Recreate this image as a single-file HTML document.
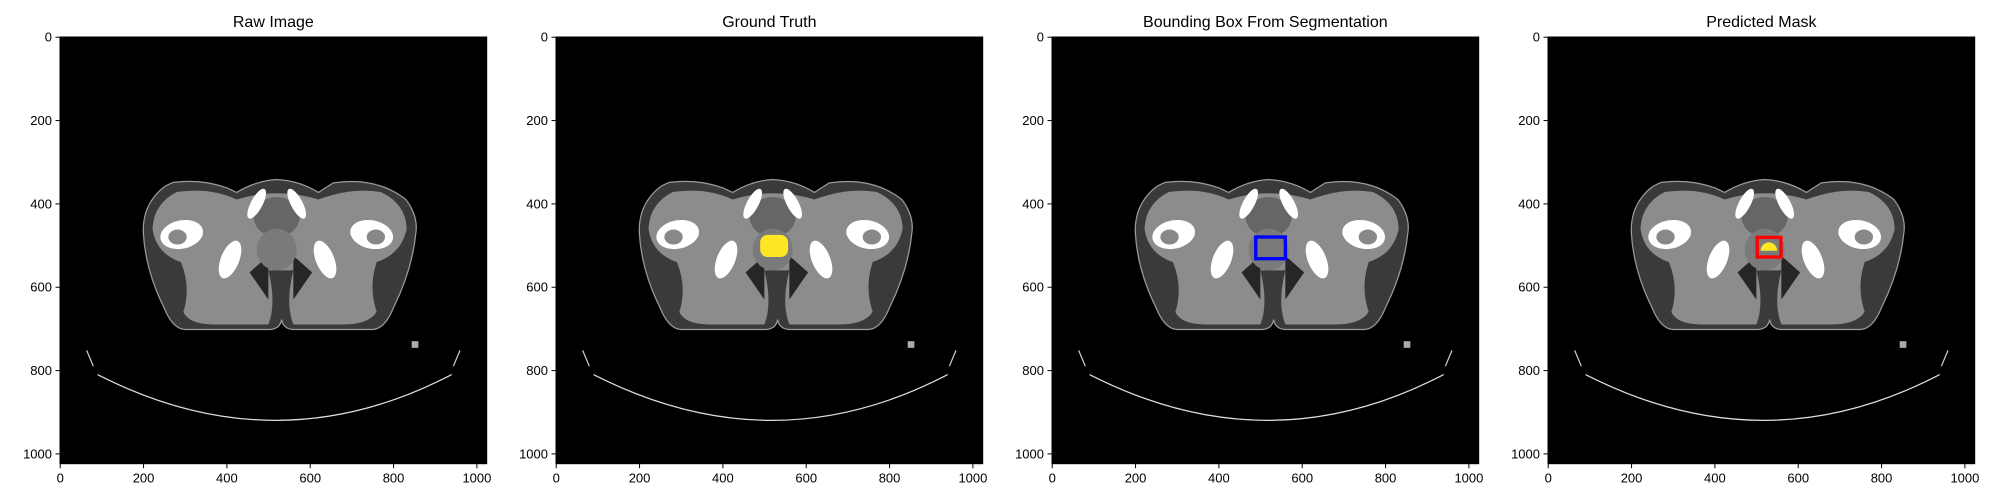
<!DOCTYPE html>
<html><head><meta charset="utf-8"><style>
html,body{margin:0;padding:0;background:#fff;}
svg{display:block;font-family:"Liberation Sans","DejaVu Sans",sans-serif;}
</style></head><body>
<svg id="fig" width="2000" height="500" viewBox="0 0 2000 500">
<defs>
<g id="ct">
<rect x="-0.5" y="-0.5" width="1024" height="1024" fill="#000"/>
<path d="M272 349 Q340 340 400 362 L424 373 Q470 345 520 342 Q575 345 620 373 L656 350 Q760 335 830 390 Q860 430 854 470 Q845 560 800 650 Q780 700 750 702 L560 702 Q535 700 532 678 Q528 700 505 702 L300 702 Q270 700 250 650 Q205 560 200 470 Q198 420 225 385 Q245 358 272 349 Z" fill="#3a3a3a" stroke="#9a9a9a" stroke-width="3"/>
<path d="M280 372 Q360 360 424 390 Q520 360 620 390 Q700 360 770 372 Q830 400 832 460 Q820 520 760 540 Q740 600 760 660 Q740 690 680 690 L560 690 Q540 640 560 560 L500 560 Q520 640 500 690 L370 690 Q310 690 296 660 Q315 600 290 540 Q230 520 222 460 Q225 400 280 372 Z" fill="#8c8c8c"/>
<path d="M455 565 L500 525 L500 630 Z" fill="#262626"/>
<path d="M605 565 L560 525 L560 630 Z" fill="#262626"/>
<ellipse cx="520" cy="432" rx="55" ry="48" fill="#666"/>
<ellipse cx="520" cy="510" rx="48" ry="50" fill="#7a7a7a"/>
<ellipse cx="472" cy="400" rx="14" ry="40" transform="rotate(28 472 400)" fill="#fff"/>
<ellipse cx="568" cy="400" rx="14" ry="40" transform="rotate(-28 568 400)" fill="#fff"/>
<ellipse cx="292" cy="474" rx="52" ry="34" transform="rotate(-12 292 474)" fill="#fff"/>
<ellipse cx="282" cy="480" rx="22" ry="18" fill="#888"/>
<ellipse cx="748" cy="474" rx="52" ry="34" transform="rotate(12 748 474)" fill="#fff"/>
<ellipse cx="758" cy="480" rx="22" ry="18" fill="#888"/>
<ellipse cx="408" cy="534" rx="22" ry="48" transform="rotate(22 408 534)" fill="#fff"/>
<ellipse cx="636" cy="534" rx="22" ry="48" transform="rotate(-22 636 534)" fill="#fff"/>
<path d="M90 810 Q520 1030 940 810" fill="none" stroke="#ddd" stroke-width="3"/>
<path d="M64 752 L80 790" stroke="#ccc" stroke-width="3"/>
<path d="M960 752 L944 790" stroke="#ccc" stroke-width="3"/>
<rect x="844" y="730" width="16" height="16" fill="#aaa"/>
</g>
</defs>
<g id="panels"></g>
</svg>
<script>
const titles = ["Raw Image","Ground Truth","Bounding Box From Segmentation","Predicted Mask"];
const ticks = [0,200,400,600,800,1000];
const gtMask = [490,475,557,528];
const bbox = [489,480,560,532];
const predBox = [502,481,559,528];
const predMask = [530,505,20];
const extent = 1024;
const NS = "http://www.w3.org/2000/svg";
const lefts = [60,556,1052,1548];
const topY = 37, size = 426.7;
const k = size/extent;
const root = document.getElementById("panels");
function mk(tag, attrs, parent){const e=document.createElementNS(NS,tag);for(const a in attrs)e.setAttribute(a,attrs[a]);parent.appendChild(e);return e;}
titles.forEach((t,i)=>{
  const L = lefts[i];
  const sx = v => L + (v+0.5)*k, sy = v => topY + (v+0.5)*k;
  const g = mk("g",{},root);
  
  
  const img = mk("use",{"href":"#ct","transform":`translate(${L},${topY}) scale(${k})`},g);
  
  
  const dg = mk("g",{"transform":`translate(${L},${topY}) scale(${k})`},g);
  if(i===1){
    const m = mk("rect",{"x":gtMask[0],"y":gtMask[1],"width":gtMask[2]-gtMask[0],"height":gtMask[3]-gtMask[1],"rx":18,"fill":"#fde725"},dg);
    
    
  }
  if(i===2){
    const b = mk("rect",{"x":bbox[0],"y":bbox[1],"width":bbox[2]-bbox[0],"height":bbox[3]-bbox[1],"fill":"none","stroke":"#0000ff","stroke-width":8},dg);
    
    
  }
  if(i===3){
    const m = mk("path",{"d":`M${predMask[0]-predMask[2]} ${predMask[1]+8} A${predMask[2]} ${predMask[2]} 0 0 1 ${predMask[0]+predMask[2]} ${predMask[1]+8} Z`,"fill":"#fde725"},dg);
    
    
    const b = mk("rect",{"x":predBox[0],"y":predBox[1],"width":predBox[2]-predBox[0],"height":predBox[3]-predBox[1],"fill":"none","stroke":"#ff0000","stroke-width":8},dg);
    
    
  }
  const fr = mk("rect",{"x":L,"y":topY,"width":size,"height":size,"fill":"none","stroke":"#000","stroke-width":1},g);
  
  
  const tt = mk("text",{"x":L+size/2,"y":27,"text-anchor":"middle","font-size":16,"fill":"#000"},g);
  tt.textContent = t;
  
  
  ticks.forEach(v=>{
    const x = sx(v), y = sy(v);
    mk("line",{"x1":x,"x2":x,"y1":topY+size,"y2":topY+size+4.5,"stroke":"#000"},g);
    const xl = mk("text",{"x":x,"y":topY+size+19,"text-anchor":"middle","font-size":13,"fill":"#000"},g);
    xl.textContent = v;
    
    
    mk("line",{"x1":L-4.5,"x2":L,"y1":y,"y2":y,"stroke":"#000"},g);
    const yl = mk("text",{"x":L-8,"y":y+4.5,"text-anchor":"end","font-size":13,"fill":"#000"},g);
    yl.textContent = v;
    
    
  });
});
</script>
</body></html>
